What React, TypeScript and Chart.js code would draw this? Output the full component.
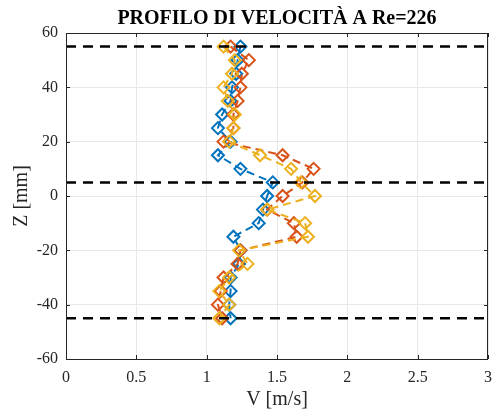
import React, { useEffect, useRef } from "react";
import { Chart, registerables } from "chart.js";

Chart.register(...registerables);

const zLevels = [55, 50, 45, 40, 35, 30, 25, 20, 15, 10, 5, 0, -5, -10, -15, -20, -25, -30, -35, -40, -45];
const seriesBlue = [1.24, 1.22, 1.21, 1.18, 1.17, 1.11, 1.08, 1.17, 1.08, 1.24, 1.47, 1.43, 1.40, 1.37, 1.19, 1.24, 1.23, 1.17, 1.17, 1.16, 1.17];
const seriesRed = [1.17, 1.30, 1.25, 1.24, 1.22, 1.19, 1.19, 1.12, 1.54, 1.76, 1.68, 1.54, 1.43, 1.62, 1.64, 1.24, 1.22, 1.12, 1.10, 1.08, 1.11];
const seriesYellow = [1.12, 1.20, 1.18, 1.12, 1.15, 1.20, 1.19, 1.16, 1.38, 1.60, 1.67, 1.77, 1.43, 1.70, 1.72, 1.23, 1.29, 1.16, 1.09, 1.16, 1.09];
const referenceZ = [55, 5, -45];
const xRange = [0, 3];
const yRange = [-60, 60];

const titleText = "PROFILO DI VELOCITÀ A Re=226";
const xTitle = "V [m/s]";
const yTitle = "Z [mm]";

const SERIF = "'Liberation Serif', 'Times New Roman', serif";
const AX = "#262626";

const boxPlugin = {
  id: "boxPlugin",
  afterDatasetsDraw(chart: any) {
    const { ctx, chartArea } = chart;
    const { left, right, top, bottom } = chartArea;
    ctx.save();
    ctx.strokeStyle = AX;
    ctx.lineWidth = 1;
    ctx.strokeRect(left + 0.5, top + 0.5, right - left - 1, bottom - top);
    const xs = chart.scales.x;
    const ys = chart.scales.y;
    ctx.beginPath();
    xs.ticks.forEach((t: any) => {
      const px = Math.round(xs.getPixelForValue(t.value)) + 0.5;
      ctx.moveTo(px, bottom);
      ctx.lineTo(px, bottom - 4);
      ctx.moveTo(px, top);
      ctx.lineTo(px, top + 4);
    });
    ys.ticks.forEach((t: any) => {
      const py = Math.round(ys.getPixelForValue(t.value)) + 0.5;
      ctx.moveTo(left, py);
      ctx.lineTo(left + 4, py);
      ctx.moveTo(right, py);
      ctx.lineTo(right - 4, py);
    });
    ctx.stroke();
    ctx.fillStyle = "#000";
    ctx.font = `bold 20px ${SERIF}`;
    ctx.textAlign = "center";
    ctx.textBaseline = "middle";
    ctx.fillText(titleText, (left + right) / 2, 19);
    ctx.restore();
  },
};

function mk(values: number[], color: string, order: number) {
  return {
    data: values.map((v, i) => ({ x: v, y: zLevels[i] })),
    borderColor: color,
    backgroundColor: "transparent",
    pointBorderColor: color,
    pointBackgroundColor: "transparent",
    pointStyle: "rectRot",
    pointRadius: 6,
    pointBorderWidth: 2,
    borderWidth: 2,
    borderDash: [8, 5],
    showLine: true,
    order,
  };
}

export default function App() {
  const ref = useRef<HTMLCanvasElement | null>(null);
  useEffect(() => {
    if (!ref.current) return;
    const datasets: any[] = [
      mk(seriesBlue, "#0072BD", 3),
      mk(seriesRed, "#D95319", 2),
      mk(seriesYellow, "#EDB120", 1),
      ...referenceZ.map((z) => ({
        data: [
          { x: xRange[0], y: z },
          { x: xRange[1], y: z },
        ],
        borderColor: "#000000",
        borderWidth: 2.5,
        borderDash: [10, 7],
        pointRadius: 0,
        showLine: true,
        order: 0,
      })),
    ];
    const chart = new Chart(ref.current, {
      type: "scatter",
      data: { datasets },
      plugins: [boxPlugin],
      options: {
        animation: false,
        responsive: false,
        devicePixelRatio: 1,
        layout: { autoPadding: false, padding: { left: 0, right: 4, top: 33, bottom: 0 } },
        plugins: {
          legend: { display: false },
          tooltip: { enabled: false },
          title: { display: false },
        },
        scales: {
          x: {
            type: "linear",
            min: xRange[0],
            max: xRange[1],
            ticks: {
              stepSize: 0.5,
              color: AX,
              font: { family: SERIF, size: 16 },
              padding: 0,
              maxRotation: 0,
              callback: (v: any) => String(Number(v)),
            },
            grid: {
              color: "#e8e8e8",
              drawTicks: true,
              tickLength: 9,
              tickColor: "rgba(0,0,0,0)",
            },
            border: { display: false },
            title: {
              display: true,
              text: xTitle,
              color: AX,
              font: { family: SERIF, size: 20 },
              padding: { top: 0, bottom: 2 },
            },
            afterFit: (s: any) => {
              s.height = 55;
            },
          },
          y: {
            type: "linear",
            min: yRange[0],
            max: yRange[1],
            ticks: {
              stepSize: 20,
              color: AX,
              font: { family: SERIF, size: 16 },
              padding: 8,
              callback: (v: any) => String(Number(v)),
            },
            grid: { color: "#e8e8e8", drawTicks: false },
            border: { display: false },
            title: {
              display: true,
              text: yTitle,
              color: AX,
              font: { family: SERIF, size: 20 },
              padding: { top: 10, bottom: 0 },
            },
            afterFit: (s: any) => {
              s.width = 66;
            },
          },
        },
      },
    });
    return () => chart.destroy();
  }, []);
  return (
    <div style={{ position: "fixed", left: 0, top: 0, width: 492, height: 414, background: "#fff" }}>
      <canvas ref={ref} width={492} height={414} style={{ width: 492, height: 414 }} />
    </div>
  );
}
